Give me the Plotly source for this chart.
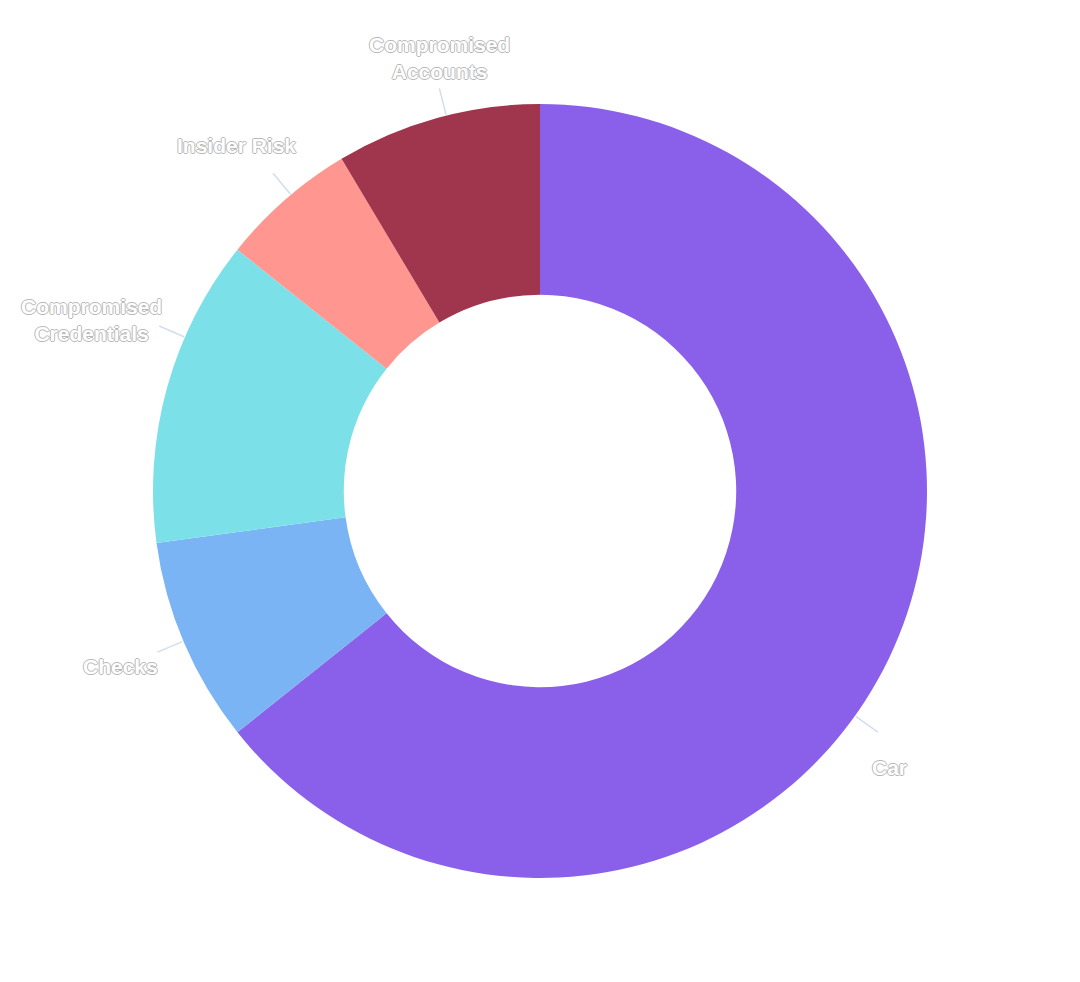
import math
import plotly.graph_objects as go

labels = ["Car", "Checks", "Compromised<br>Credentials", "Insider Risk", "Compromised<br>Accounts"]
values = [45, 6, 9, 4, 6]
colors = ["#8a60ea", "#7ab4f4", "#7be0e8", "#ff9790", "#a0364e"]

# label layout (mimics reference label avoidance): angle nudges in degrees
# relative to slice mid-angle, and label-centre distance beyond the outer radius
line_nudge = [9.8, 0.3, 8.0, 1.1, 1.4]
label_nudge = [12.6, 0.5, 5.4, -0.2, 2.4]
label_dist = [59, 68, 93, 73, 57]

W, H = 1080, 982
OFF = 8  # page body margin
CX, CY, R = 540 - OFF, 491 - OFF, 387
FS = 21

fig = go.Figure(go.Pie(
    labels=labels,
    values=values,
    sort=False,
    direction="clockwise",
    rotation=0,
    hole=0.507,
    marker=dict(colors=colors, line=dict(width=0)),
    textinfo="none",
    domain=dict(x=[(CX - R) / W, (CX + R) / W], y=[1 - (CY + R) / H, 1 - (CY - R) / H]),
    showlegend=False,
    hoverinfo="label+value",
))

oc = "#b8b8b8"
outline = f"1px 0 0 {oc}, -1px 0 0 {oc}, 0 1px 0 {oc}, 0 -1px 0 {oc}"

total = sum(values)
shapes, annotations = [], []
cum = 0
for lab, v, ln, lb, ld in zip(labels, values, line_nudge, label_nudge, label_dist):
    mid_deg = (cum + v / 2) / total * 360
    cum += v
    a = math.radians(mid_deg + ln)
    sx, sy = math.sin(a), -math.cos(a)
    x0, y0 = CX + (R + 1) * sx, CY + (R + 1) * sy
    x1, y1 = CX + (R + 28) * sx, CY + (R + 28) * sy
    shapes.append(dict(type="line", xref="paper", yref="paper",
                       x0=x0 / W, y0=1 - y0 / H, x1=x1 / W, y1=1 - y1 / H,
                       line=dict(color="#d2deec", width=1.5)))
    b = math.radians(mid_deg + lb)
    ax, ay = CX + (R + ld) * math.sin(b), CY - (R + ld) * math.cos(b)
    annotations.append(dict(xref="paper", yref="paper", x=ax / W, y=1 - ay / H,
                            text=lab, showarrow=False, xanchor="center", yanchor="middle",
                            font=dict(family="Liberation Sans, Arial, sans-serif", size=FS,
                                      weight="bold", color="white", shadow=outline)))

fig.update_layout(
    width=W, height=H,
    margin=dict(l=0, r=0, t=0, b=0),
    paper_bgcolor="white",
    plot_bgcolor="white",
    shapes=shapes,
    annotations=annotations,
)

fig.write_html("out.html")
